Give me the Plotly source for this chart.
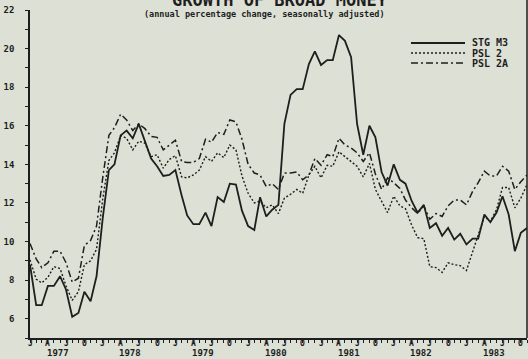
import plotly.graph_objects as go
import pandas as pd

# ---- data (monthly, Jan 1977 - Nov 1983) ----
months = pd.date_range("1977-01-01", periods=83, freq="MS")

stg_m3 = [8.8, 6.7, 6.7, 7.7, 7.7, 8.2, 7.5, 6.1, 6.3, 7.4, 6.9, 8.2,
          11.2, 13.7, 14.0, 15.5, 15.75, 15.35, 16.1, 15.2, 14.3, 13.9, 13.4, 13.45,
          13.7, 12.4, 11.35, 10.9, 10.9, 11.5, 10.8, 12.3, 12.05, 13.0, 12.95, 11.6,
          10.8, 10.6, 12.3, 11.3, 11.65, 11.9, 16.1, 17.6, 17.9, 17.9, 19.2, 19.85,
          19.15, 19.4, 19.4, 20.7, 20.4, 19.55, 16.1, 14.5, 16.0, 15.4, 13.6, 12.9,
          14.0, 13.2, 13.0, 12.1, 11.5, 11.9, 10.7, 10.95, 10.3, 10.7, 10.1, 10.4,
          9.85, 10.15, 10.15, 11.4, 11.0, 11.5, 12.35, 11.4, 9.5, 10.45, 10.7]

psl_2 = [9.05, 8.05, 7.85, 8.15, 8.7, 8.6, 7.7, 6.95, 7.4, 8.8, 9.0, 9.6,
         12.2, 14.2, 14.6, 15.5, 15.35, 14.75, 15.2, 15.1, 14.4, 14.5, 13.8, 14.25,
         14.45, 13.35, 13.3, 13.45, 13.7, 14.4, 14.15, 14.6, 14.35, 15.0, 14.75, 13.4,
         12.5, 12.0, 12.1, 11.75, 11.9, 11.45, 12.25, 12.45, 12.7, 12.5, 13.45, 13.9,
         13.3, 13.95, 13.9, 14.65, 14.4, 14.15, 13.9, 13.35, 14.05, 12.7, 12.1, 11.5,
         12.35, 11.85, 11.7, 10.85, 10.2, 10.15, 8.7, 8.65, 8.4, 8.9, 8.8, 8.75,
         8.5, 9.45, 10.3, 11.3, 11.05, 11.65, 12.8, 12.8, 11.75, 12.25, 12.95]

psl_2a = [9.9, 9.1, 8.65, 8.9, 9.5, 9.5, 8.9, 7.9, 8.1, 9.8, 10.05, 10.8,
          13.3, 15.5, 15.9, 16.6, 16.3, 15.75, 16.1, 15.85, 15.45, 15.4, 14.75, 15.0,
          15.25, 14.15, 14.1, 14.1, 14.3, 15.3, 15.15, 15.65, 15.55, 16.3, 16.2, 15.3,
          14.0, 13.55, 13.45, 12.85, 13.0, 12.7, 13.55, 13.55, 13.6, 13.2, 13.45, 14.3,
          13.95, 14.5, 14.4, 15.35, 15.0, 14.85, 14.6, 14.15, 14.6, 13.5, 12.7, 13.3,
          13.05, 12.75, 12.15, 11.75, 11.45, 11.85, 11.15, 11.45, 11.3, 11.85, 12.15, 12.15,
          11.9, 12.6, 13.05, 13.65, 13.4, 13.4, 13.9, 13.65, 12.7, 13.1, 13.45]

series_names = ["STG M3", "PSL 2", "PSL 2A"]
quarter_letters = ["J", "A", "J", "O"]
quarter_months = [1, 4, 7, 10]
years = [1977, 1978, 1979, 1980, 1981, 1982, 1983]
y_ticks = [6, 8, 10, 12, 14, 16, 18, 20, 22]

INK = "#1e1e1e"
BG = "#dde0d4"
FONT = "DejaVu Sans Mono"
dashes = ["solid", "2px,2px", "7px,3px,2px,3px"]
widths = [1.8, 1.4, 1.5]

fig = go.Figure()
for name, vals, dash, w in zip(series_names, [stg_m3, psl_2, psl_2a], dashes, widths):
    fig.add_trace(go.Scatter(x=months, y=vals, mode="lines", name=name,
                             line=dict(color=INK, width=w, dash=dash),
                             showlegend=False))

L, R, T, B = 30, 1, 10, 21
W, H = 528, 359
pw, ph = W - L - R, H - T - B

def px(xp):
    return (xp - L) / pw

def py(yp):
    return (H - B - yp) / ph

fig.update_layout(
    width=W, height=H,
    margin=dict(l=L, r=R, t=T, b=B, autoexpand=False),
    paper_bgcolor=BG, plot_bgcolor=BG,
    font=dict(family=FONT, color=INK),
    xaxis=dict(type="date", range=["1977-01-01", "1983-11-01"],
               showline=True, linecolor=INK, linewidth=1.5,
               showgrid=False, zeroline=False, showticklabels=False,
               tickmode="array",
               tickvals=[f"{y}-{m:02d}-01" for y in years for m in quarter_months],
               ticks="outside", ticklen=3, tickwidth=1, tickcolor=INK,
               minor=dict(dtick="M1", ticks="outside", ticklen=3, tickwidth=1,
                          tickcolor=INK, showgrid=False)),
    yaxis=dict(range=[5, 22], showline=True, linecolor=INK, linewidth=1.5,
               showgrid=False, zeroline=False,
               tickmode="array", tickvals=y_ticks,
               ticks="outside", ticklen=3, tickwidth=1, tickcolor=INK,
               tickfont=dict(size=9, family=FONT, color=INK, weight="bold"),
               ticklabelstandoff=9,
               minor=dict(dtick=1, tick0=0, ticks="outside", ticklen=3, tickwidth=1,
                          tickcolor=INK, showgrid=False)),
)

annotations = []
# title (partly cut off at the top, as in the scan)
annotations.append(dict(text="<b>GROWTH OF BROAD MONEY</b>", xref="paper", yref="paper",
                        x=px(280), y=py(0.5), xanchor="center", yanchor="middle",
                        showarrow=False, font=dict(size=17, family=FONT, color=INK)))
annotations.append(dict(text="<b>(annual percentage change, seasonally adjusted)</b>",
                        xref="paper", yref="paper", x=px(264), y=py(14.5),
                        xanchor="center", yanchor="middle", showarrow=False,
                        font=dict(size=8.5, family=FONT, color=INK)))
# quarter letters and year labels under the axis
for y in years:
    for letter, m in zip(quarter_letters, quarter_months):
        annotations.append(dict(text=f"<b>{letter}</b>", xref="x", yref="paper",
                                x=f"{y}-{m:02d}-01", y=py(343.5), xanchor="center",
                                yanchor="middle", showarrow=False,
                                font=dict(size=8, family=FONT, color=INK)))
    annotations.append(dict(text=f"<b>{y}</b>", xref="x", yref="paper",
                            x=f"{y}-05-20", y=py(352.5), xanchor="center", yanchor="middle",
                            showarrow=False, font=dict(size=9, family=FONT, color=INK)))

shapes = []
# legend
for i, (name, dash, w) in enumerate(zip(series_names, dashes, widths)):
    yy = py(43 + 10 * i)
    shapes.append(dict(type="line", xref="paper", yref="paper",
                       x0=px(411), x1=px(465), y0=yy, y1=yy,
                       line=dict(color=INK, width=w, dash=dash)))
    annotations.append(dict(text=f"<b>{name}</b>", xref="paper", yref="paper",
                            x=px(470), y=yy, xanchor="left", yanchor="middle",
                            showarrow=False, font=dict(size=10, family=FONT, color=INK)))
# right frame line
shapes.append(dict(type="line", xref="paper", yref="paper", x0=1, x1=1, y0=0, y1=1.05,
                   line=dict(color=INK, width=1.5)))

fig.update_layout(annotations=annotations, shapes=shapes)
fig.write_html("out.html", config={"displayModeBar": False},
               post_script="document.body.style.margin='0';document.body.style.background='%s';" % BG)
